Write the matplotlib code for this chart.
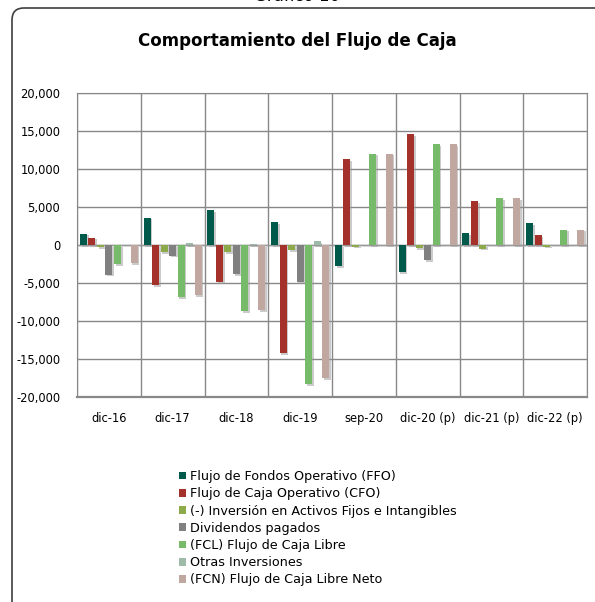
import matplotlib.pyplot as plt
import matplotlib.patheffects as pe
from matplotlib.patches import FancyBboxPatch
import numpy as np

categories = ["dic-16", "dic-17", "dic-18", "dic-19", "sep-20", "dic-20 (p)", "dic-21 (p)", "dic-22 (p)"]

ffo = [1500, 3600, 4600, 3000, -2800, -3600, 1600, 2900]
cfo = [950, -5300, -4900, -14200, 11300, 14600, 5800, 1300]
inversion = [-300, -900, -900, -650, -200, -400, -500, -200]
dividendos = [-3900, -1400, -3800, -4900, 0, -2000, 0, 0]
fcl = [-2500, -6900, -8700, -18300, 12000, 13300, 6200, 2000]
otras = [0, 200, 100, 500, 0, 0, 0, 0]
fcn = [-2400, -6600, -8600, -17500, 12000, 13300, 6200, 2000]

series_names = [
    "Flujo de Fondos Operativo (FFO)",
    "Flujo de Caja Operativo (CFO)",
    "(-) Inversión en Activos Fijos e Intangibles",
    "Dividendos pagados",
    "(FCL) Flujo de Caja Libre",
    "Otras Inversiones",
    "(FCN) Flujo de Caja Libre Neto",
]
series = [ffo, cfo, inversion, dividendos, fcl, otras, fcn]
colors = ["#005A4B", "#A5322A", "#8DAA4B", "#808080", "#77BB6A", "#9DBBA8", "#C0A8A0"]

yticks = [-20000, -15000, -10000, -5000, 0, 5000, 10000, 15000, 20000]

fig = plt.figure(figsize=(5.95, 6.02), dpi=100)

# rounded frame around the chart
frame = FancyBboxPatch((12 / 595, -0.05), 1.0, 1.0 - 8 / 602 + 0.05,
                       boxstyle="round,pad=0,rounding_size=0.02",
                       transform=fig.transFigure, fill=False,
                       edgecolor="#404040", linewidth=1.2, clip_on=False)
fig.patches.append(frame)

fig.text(0.5, 1.006, "Gráfico 10", ha="center", va="center",
         fontsize=12, family="DejaVu Sans")
fig.text(0.5, 1 - 41 / 602, "Comportamiento del Flujo de Caja", ha="center", va="center",
         fontsize=12, fontweight="bold", family="DejaVu Sans")

ax = fig.add_axes([77 / 595, 1 - 397 / 602, 510 / 595, 304 / 602])

x = np.arange(len(categories))
step = 0.133
width = 0.11
shadow = [pe.SimplePatchShadow(offset=(1.2, -1.2), shadow_rgbFace="#999999", alpha=0.5), pe.Normal()]
for i, (name, vals, c) in enumerate(zip(series_names, series, colors)):
    bars = ax.bar(x + (i - 3) * step, vals, width=width, color=c, label=name, zorder=3)
    for b in bars:
        b.set_path_effects(shadow)

ax.set_xlim(-0.5, len(categories) - 0.5)
ax.set_ylim(-20000, 20000)
ax.set_yticks(yticks)
ax.set_yticklabels([f"{v:,}" for v in yticks])
ax.set_xticks(x)
ax.set_xticklabels(categories)
ax.set_xticks(np.arange(len(categories) + 1) - 0.5, minor=True)

ax.grid(axis="y", color="#888888", linewidth=1.0, zorder=0)
ax.grid(axis="x", which="minor", color="#888888", linewidth=1.0, zorder=0)
ax.axhline(0, color="#999999", linewidth=1.0, zorder=2)

for s in ax.spines.values():
    s.set_color("#888888")
ax.spines["bottom"].set_linewidth(1.6)
ax.tick_params(axis="both", which="both", length=0, labelsize=8.3, colors="black")
ax.tick_params(axis="x", pad=11)
ax.tick_params(axis="y", pad=12)

handles, labels = ax.get_legend_handles_labels()
leg = fig.legend(handles, labels, loc="upper left", bbox_to_anchor=(174 / 595, 1 - 465 / 602),
                 frameon=False, fontsize=9.2, handlelength=0.55, handleheight=0.55,
                 handletextpad=0.3, labelspacing=0.33, borderaxespad=0)
for h in leg.legend_handles:
    h.set_path_effects([])

fig.savefig("out.png", dpi=100)
